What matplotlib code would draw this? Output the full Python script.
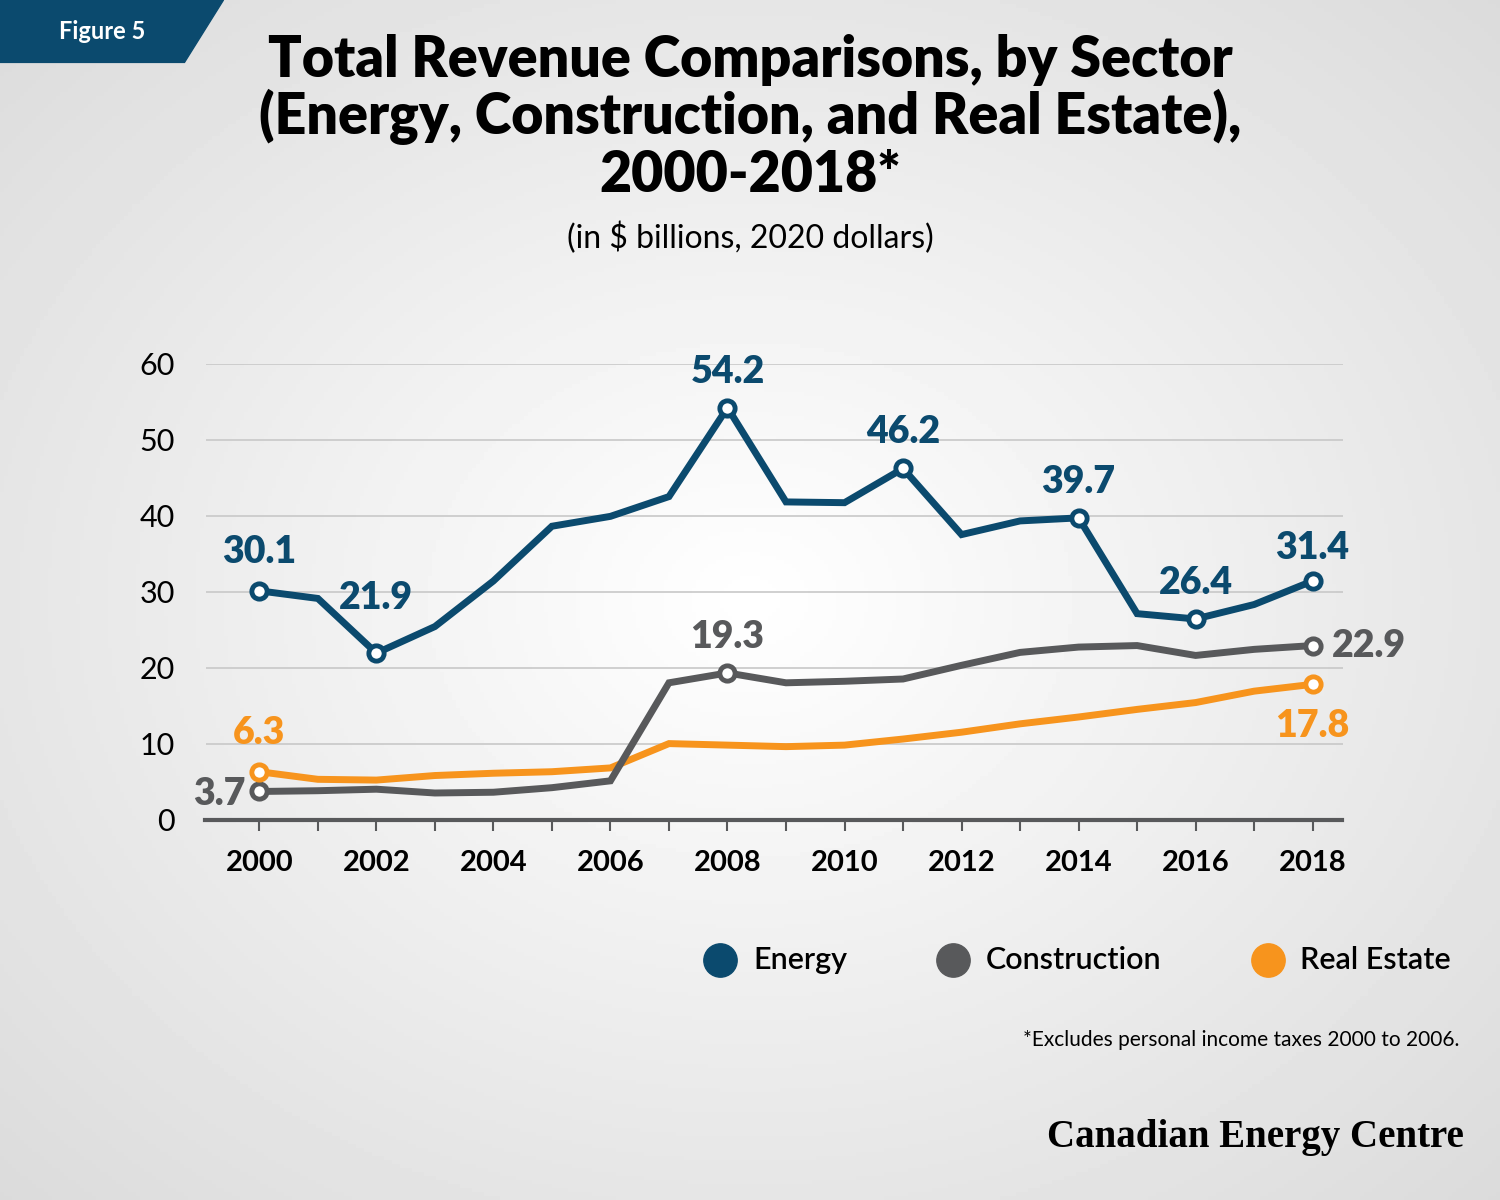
import numpy as np
import matplotlib
matplotlib.use("Agg")
import matplotlib.pyplot as plt
from matplotlib.patches import Polygon

plt.rcParams['font.family'] = ['Lato', 'DejaVu Sans']

years = list(range(2000, 2019))
energy = [30.1, 29.1, 21.9, 25.4, 31.4, 38.6, 39.9, 42.5, 54.2, 41.8, 41.7,
          46.2, 37.5, 39.3, 39.7, 27.1, 26.4, 28.3, 31.4]
construction = [3.7, 3.8, 4.0, 3.5, 3.6, 4.2, 5.1, 18.0, 19.3, 18.0, 18.2,
                18.5, 20.3, 22.0, 22.7, 22.9, 21.6, 22.4, 22.9]
real_estate = [6.3, 5.3, 5.2, 5.8, 6.1, 6.3, 6.8, 10.0, 9.8, 9.6, 9.8,
               10.6, 11.5, 12.6, 13.5, 14.5, 15.4, 16.9, 17.8]

c_en, c_co, c_re = '#0b4a6e', '#58595b', '#f7941d'

fig = plt.figure(figsize=(15, 12), dpi=100)

# radial grey background
bg = fig.add_axes([0, 0, 1, 1], zorder=-10)
yy, xx = np.mgrid[0:1:300j, 0:1:375j]
r = np.sqrt(((xx - 0.5) / 0.8) ** 2 + ((yy - 0.5) / 0.8) ** 2)
bg.imshow(1 - 0.16 * np.clip(r, 0, 1), cmap='gray', vmin=0, vmax=1,
          extent=[0, 1, 0, 1], aspect='auto')
bg.axis('off')
bg.add_patch(Polygon([[0, 1], [0.149, 1], [0.123, 0.948], [0, 0.948]],
                     closed=True, color=c_en, transform=bg.transAxes))
bg.text(0.068, 0.974, 'Figure 5', color='white', fontsize=17, fontweight='bold',
        ha='center', va='center', transform=bg.transAxes)

fig.text(0.5, 0.972, 'Total Revenue Comparisons, by Sector\n(Energy, Construction, and Real Estate),\n2000-2018*',
         ha='center', va='top', fontsize=40, fontweight='heavy', linespacing=1.08)
fig.text(0.5, 0.802, '(in $ billions, 2020 dollars)', ha='center', va='center', fontsize=23)

ax = fig.add_axes([0.137, 0.317, 0.758, 0.38])
ax.set_facecolor('none')
ax.set_xlim(1999.08, 2018.51)
ax.set_ylim(0, 60)
ax.set_yticks(range(0, 61, 10))
ax.set_xticks(years)
ax.set_xticklabels([str(y) if y % 2 == 0 else '' for y in years])
ax.grid(axis='y', color='#c8c8c8', lw=1.2)
ax.set_axisbelow(True)
for s in ['top', 'right', 'left']:
    ax.spines[s].set_visible(False)
ax.spines['bottom'].set_color('#58595b')
ax.spines['bottom'].set_linewidth(3)
ax.tick_params(axis='y', length=0, labelsize=22, pad=22)
ax.tick_params(axis='x', length=8, width=1.5, color='#58595b', labelsize=21, pad=14)
for lab in ax.get_xticklabels():
    lab.set_fontweight('bold')

for vals, col in [(real_estate, c_re), (construction, c_co), (energy, c_en)]:
    ax.plot(years, vals, color=col, lw=5, solid_joinstyle='miter', zorder=3)

def mark(i, vals, col, dx=0, dy=0, ha='center'):
    ax.plot(years[i], vals[i], 'o', ms=11, mfc='white', mec=col, mew=3.5, zorder=4)
    ax.annotate(f'{vals[i]}', (years[i], vals[i]), xytext=(dx, dy), textcoords='offset points',
                ha=ha, va='center', color=col, fontsize=27, fontweight='heavy')

for i, dy in [(0, 28), (2, 40), (8, 26), (11, 26), (14, 26), (16, 26), (18, 24)]:
    mark(i, energy, c_en, dy=dy)
mark(0, construction, c_co, dx=-10, dy=-2, ha='right')
mark(8, construction, c_co, dy=26)
mark(18, construction, c_co, dx=14, dy=0, ha='left')
mark(0, real_estate, c_re, dy=28)
mark(18, real_estate, c_re, dy=-30)

for x, col, lab in [(0.48, c_en, 'Energy'), (0.635, c_co, 'Construction'), (0.845, c_re, 'Real Estate')]:
    bg.plot(x, 0.2, 'o', ms=24, color=col, transform=bg.transAxes)
    bg.text(x + 0.022, 0.2, lab, fontsize=22, fontweight='semibold', va='center', transform=bg.transAxes)

fig.text(0.973, 0.133, '*Excludes personal income taxes 2000 to 2006.', ha='right', va='center', fontsize=15)
fig.text(0.976, 0.052, 'Canadian Energy Centre', ha='right', va='center', fontsize=28,
         fontweight='bold', family=['Liberation Serif', 'DejaVu Serif'])

fig.savefig('out.png', dpi=100)
